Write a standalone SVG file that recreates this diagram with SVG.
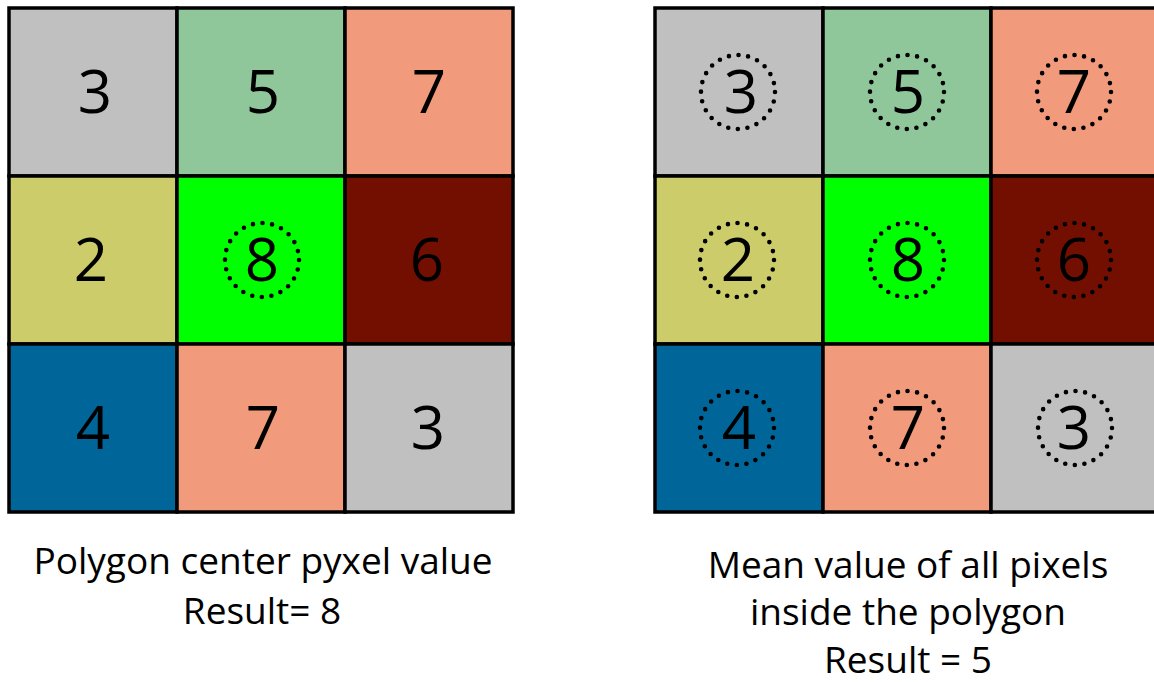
<svg xmlns="http://www.w3.org/2000/svg" width="1154" height="682" viewBox="0 0 1154 682">
  <style>
    .cell { stroke: #000; stroke-width: 3.5; }
    .num { font-family: "Open Sans", "Liberation Sans", sans-serif; font-size: 60px; fill: #000; text-anchor: middle; }
    .ring { fill: none; stroke: #000; stroke-width: 4.6; stroke-linecap: round; stroke-dasharray: 0 9.7; }
    .label { font-family: "Open Sans", "Liberation Sans", sans-serif; font-size: 37px; fill: #000; text-anchor: middle; }
    .gray { fill: #c0c0c0; }
    .sage { fill: #90c79a; }
    .salmon { fill: #f19a7c; }
    .olive { fill: #cdcc6b; }
    .lime { fill: #00ff00; }
    .maroon { fill: #730f00; }
    .blue { fill: #00669a; }
  </style>
  <rect width="1154" height="682" fill="#fff"/>

  <!-- Left grid: centre pixel value -->
  <g id="grid-center">
    <rect class="cell gray" x="9" y="8" width="168" height="168"/>
    <rect class="cell sage" x="177" y="8" width="168" height="168"/>
    <rect class="cell salmon" x="345" y="8" width="168" height="168"/>
    <rect class="cell olive" x="9" y="176" width="168" height="168"/>
    <rect class="cell lime" x="177" y="176" width="168" height="168"/>
    <rect class="cell maroon" x="345" y="176" width="168" height="168"/>
    <rect class="cell blue" x="9" y="344" width="168" height="168"/>
    <rect class="cell salmon" x="177" y="344" width="168" height="168"/>
    <rect class="cell gray" x="345" y="344" width="168" height="168"/>
    <text class="num" x="95" y="113">3</text>
    <text class="num" x="263" y="113">5</text>
    <text class="num" x="429" y="113">7</text>
    <text class="num" x="91" y="281">2</text>
    <text class="num" x="262" y="281">8</text>
    <text class="num" x="427" y="281">6</text>
    <text class="num" x="93" y="449">4</text>
    <text class="num" x="263" y="449">7</text>
    <text class="num" x="428" y="449">3</text>
    <circle class="ring" cx="262" cy="260" r="37"/>
  </g>

  <!-- Right grid: mean of all pixels -->
  <g id="grid-mean">
    <rect class="cell gray" x="655" y="8" width="168" height="168"/>
    <rect class="cell sage" x="823" y="8" width="168" height="168"/>
    <rect class="cell salmon" x="991" y="8" width="168" height="168"/>
    <rect class="cell olive" x="655" y="176" width="168" height="168"/>
    <rect class="cell lime" x="823" y="176" width="168" height="168"/>
    <rect class="cell maroon" x="991" y="176" width="168" height="168"/>
    <rect class="cell blue" x="655" y="344" width="168" height="168"/>
    <rect class="cell salmon" x="823" y="344" width="168" height="168"/>
    <rect class="cell gray" x="991" y="344" width="168" height="168"/>
    <text class="num" x="741" y="113">3</text>
    <text class="num" x="908" y="113">5</text>
    <text class="num" x="1074" y="113">7</text>
    <text class="num" x="738" y="281">2</text>
    <text class="num" x="908" y="281">8</text>
    <text class="num" x="1074" y="281">6</text>
    <text class="num" x="739" y="449">4</text>
    <text class="num" x="908" y="449">7</text>
    <text class="num" x="1074" y="449">3</text>
    <circle class="ring" cx="738" cy="92" r="37"/>
    <circle class="ring" cx="907" cy="92" r="37"/>
    <circle class="ring" cx="1074" cy="92" r="37"/>
    <circle class="ring" cx="737" cy="260" r="37"/>
    <circle class="ring" cx="907" cy="260" r="37"/>
    <circle class="ring" cx="1074" cy="260" r="37"/>
    <circle class="ring" cx="737" cy="428" r="37"/>
    <circle class="ring" cx="907" cy="428" r="37"/>
    <circle class="ring" cx="1075" cy="428" r="37"/>
  </g>

  <g id="caption-center">
    <text class="label" x="263" y="574">Polygon center pyxel value</text>
    <text class="label" x="262" y="624">Result= 8</text>
  </g>
  <g id="caption-mean">
    <text class="label" x="908" y="578">Mean value of all pixels</text>
    <text class="label" x="908" y="625">inside the polygon</text>
    <text class="label" x="908" y="673">Result = 5</text>
  </g>
</svg>
